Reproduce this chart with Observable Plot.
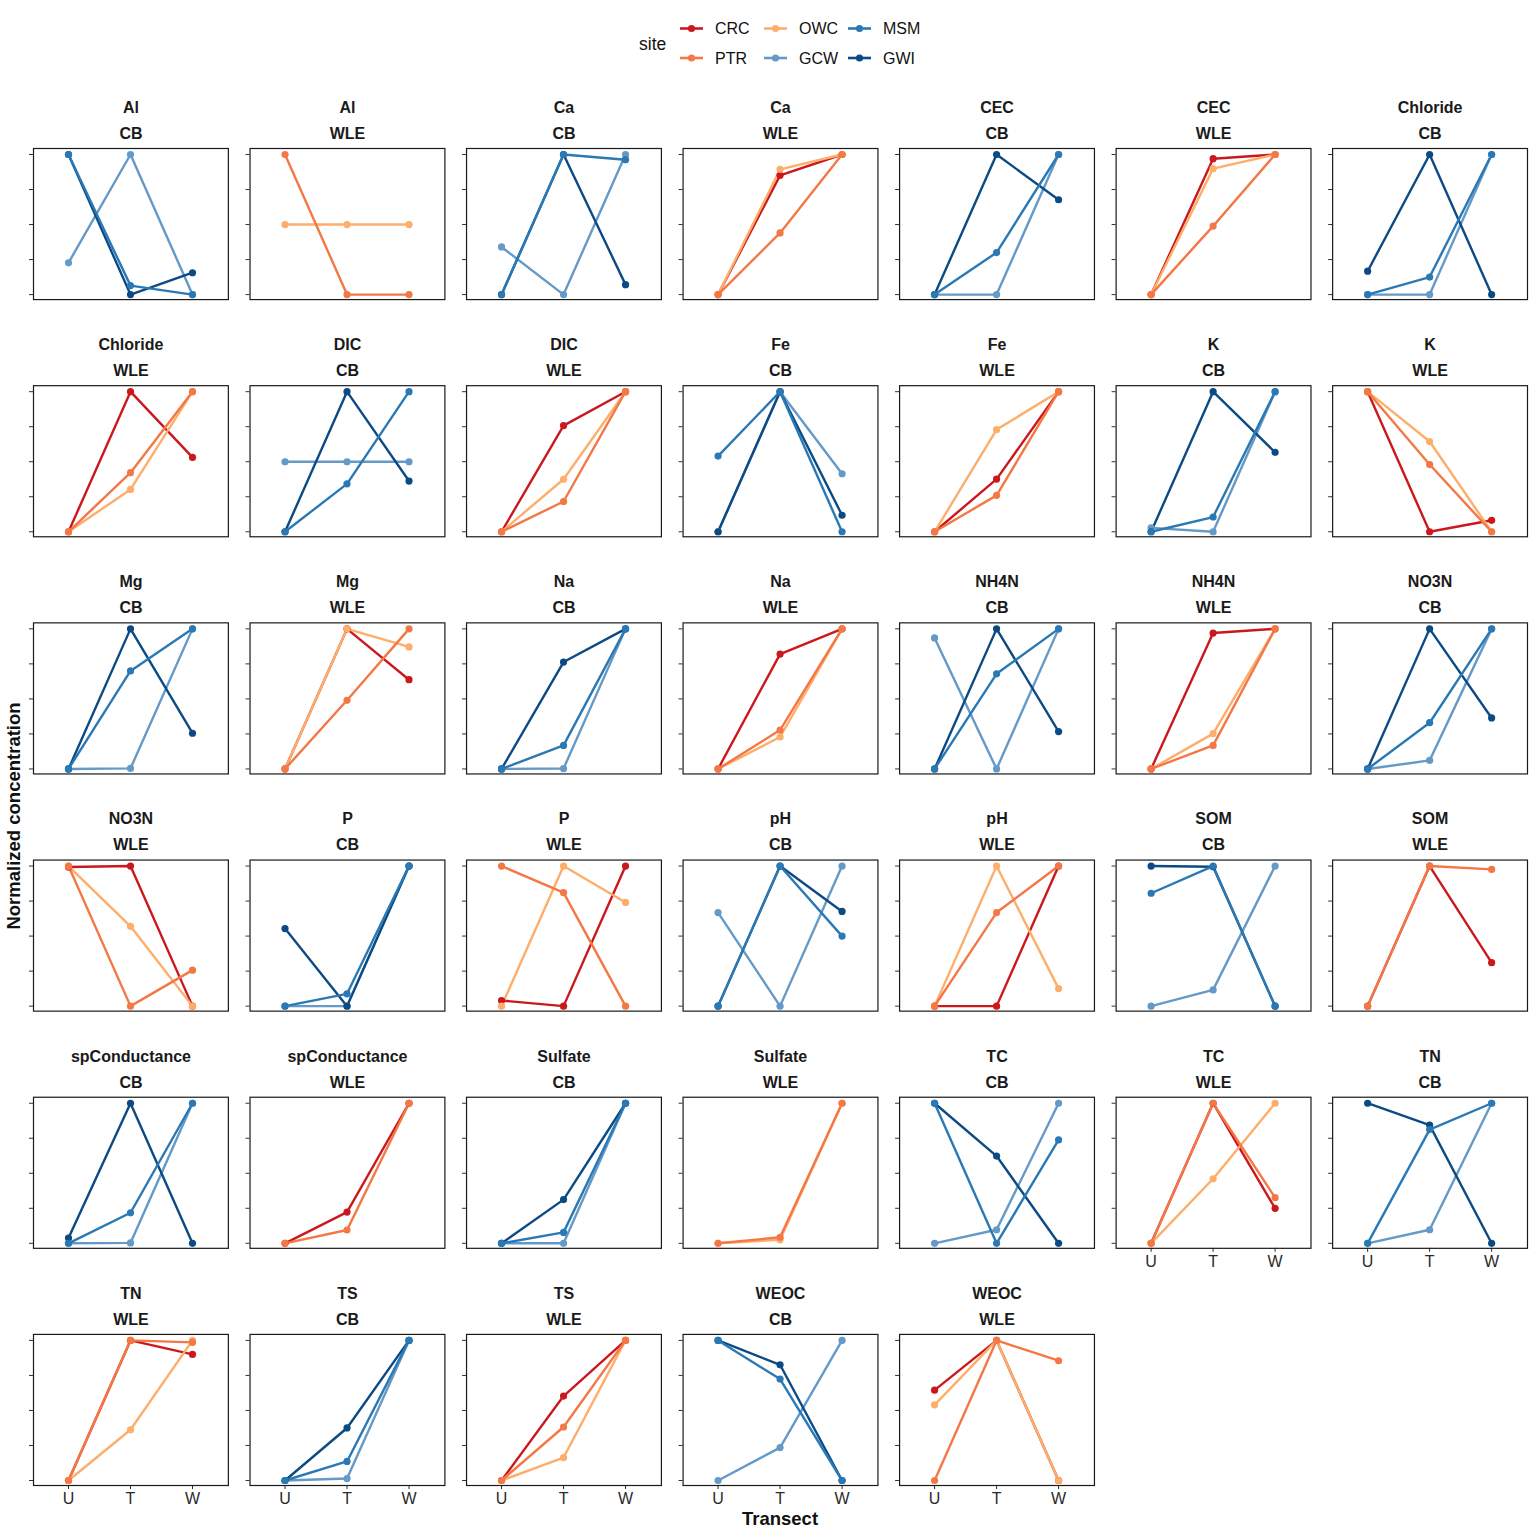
<!DOCTYPE html>
<html><head><meta charset="utf-8">
<script src="https://cdn.jsdelivr.net/npm/d3@7"></script>
<script src="https://cdn.jsdelivr.net/npm/@observablehq/plot@0.6"></script>
<style>
body{margin:0;background:#fff;font-family:"Liberation Sans",Arial,sans-serif;}
#wrap{position:relative;width:1536px;height:1536px;overflow:hidden;}
#legend{position:absolute;left:0;top:0;}
#chart{position:absolute;left:0;top:85px;}
.ytitle{position:absolute;left:14px;top:816px;transform:translate(-50%,-50%) rotate(-90deg);font-weight:bold;font-size:18.5px;white-space:nowrap;color:#111;}
.xtitle{position:absolute;left:780px;top:1519px;transform:translate(-50%,-50%);font-weight:bold;font-size:18.5px;white-space:nowrap;color:#111;}
</style></head>
<body>
<div id="wrap">
  <div id="legend"></div>
  <div id="chart"></div>
  <div class="ytitle">Normalized concentration</div>
  <div class="xtitle">Transect</div>
</div>
<script>
const transects = ["U", "T", "W"];
const sites = ["CRC", "PTR", "OWC", "GCW", "MSM", "GWI"];
const siteColors = ["#cb181d", "#f47846", "#fdae6b", "#6499c8", "#2a79b4", "#0c4a84"];
const variables = ["Al","Ca","CEC","Chloride","DIC","Fe","K","Mg","Na","NH4N","NO3N","P","pH","SOM","spConductance","Sulfate","TC","TN","TS","WEOC"];
const regions = ["CB", "WLE"];

// normalized values per panel, per site: [U, T, W]
const Al_CB = {GCW: [0.227, 1, 0], GWI: [1, 0, 0.156], MSM: [1, 0.064, 0]};
const Al_WLE = {OWC: [0.5, 0.5, 0.5], PTR: [1, 0, 0]};
const Ca_CB = {GCW: [0.34, 0, 1], GWI: [0, 1, 0.071], MSM: [0, 1, 0.963]};
const Ca_WLE = {CRC: [0, 0.851, 1], OWC: [0, 0.894, 1], PTR: [0, 0.44, 1]};
const CEC_CB = {GCW: [0, 0, 1], GWI: [0, 1, 0.677], MSM: [0, 0.3, 1]};
const CEC_WLE = {CRC: [0, 0.97, 1], OWC: [0, 0.899, 1], PTR: [0, 0.489, 1]};
const Chloride_CB = {GCW: [0, 0, 1], GWI: [0.167, 1, 0], MSM: [0, 0.125, 1]};
const Chloride_WLE = {CRC: [0, 1, 0.531], OWC: [0, 0.302, 1], PTR: [0, 0.422, 1]};
const DIC_CB = {GCW: [0.5, 0.5, 0.5], GWI: [0, 1, 0.362], MSM: [0, 0.342, 1]};
const DIC_WLE = {CRC: [0, 0.758, 1], OWC: [0, 0.375, 1], PTR: [0, 0.216, 1]};
const Fe_CB = {GCW: [0, 1, 0.414], GWI: [0, 1, 0.118], MSM: [0.54, 1, 0]};
const Fe_WLE = {CRC: [0, 0.376, 1], OWC: [0, 0.729, 1], PTR: [0, 0.26, 1]};
const K_CB = {GCW: [0.028, 0, 1], GWI: [0, 1, 0.567], MSM: [0, 0.105, 1]};
const K_WLE = {CRC: [1, 0, 0.082], OWC: [1, 0.644, 0], PTR: [1, 0.48, 0]};
const Mg_CB = {GCW: [0, 0.004, 1], GWI: [0, 1, 0.255], MSM: [0, 0.7, 1]};
const Mg_WLE = {CRC: [0, 1, 0.637], OWC: [0, 1, 0.871], PTR: [0, 0.49, 1]};
const Na_CB = {GCW: [0, 0.003, 1], GWI: [0, 0.763, 1], MSM: [0, 0.168, 1]};
const Na_WLE = {CRC: [0, 0.82, 1], OWC: [0, 0.228, 1], PTR: [0, 0.278, 1]};
const NH4N_CB = {GCW: [0.935, 0, 1], GWI: [0, 1, 0.267], MSM: [0, 0.679, 1]};
const NH4N_WLE = {CRC: [0, 0.97, 1], OWC: [0, 0.252, 1], PTR: [0, 0.168, 1]};
const NO3N_CB = {GCW: [0, 0.061, 1], GWI: [0, 1, 0.364], MSM: [0, 0.33, 1]};
const NO3N_WLE = {CRC: [0.993, 1, 0], OWC: [1, 0.57, 0], PTR: [1, 0, 0.257]};
const P_CB = {GCW: [0, 0, 1], GWI: [0.554, 0, 1], MSM: [0, 0.088, 1]};
const P_WLE = {CRC: [0.04, 0, 1], OWC: [0, 1, 0.74], PTR: [1, 0.81, 0]};
const pH_CB = {GCW: [0.668, 0, 1], GWI: [0, 1, 0.676], MSM: [0, 1, 0.5]};
const pH_WLE = {CRC: [0, 0, 1], OWC: [0, 1, 0.125], PTR: [0, 0.668, 1]};
const SOM_CB = {GCW: [0, 0.116, 1], GWI: [1, 0.995, 0], MSM: [0.806, 1, 0]};
const SOM_WLE = {CRC: [0, 1, 0.31], PTR: [0, 1, 0.976]};
const spConductance_CB = {GCW: [0, 0.003, 1], GWI: [0.038, 1, 0], MSM: [0, 0.218, 1]};
const spConductance_WLE = {CRC: [0, 0.223, 1], PTR: [0, 0.095, 1]};
const Sulfate_CB = {GCW: [0, 0, 1], GWI: [0, 0.312, 1], MSM: [0, 0.078, 1]};
const Sulfate_WLE = {OWC: [0, 0.025, 1], PTR: [0, 0.043, 1]};
const TC_CB = {GCW: [0, 0.097, 1], GWI: [1, 0.623, 0], MSM: [1, 0, 0.738]};
const TC_WLE = {CRC: [0, 1, 0.25], OWC: [0, 0.461, 1], PTR: [0, 1, 0.326]};
const TN_CB = {GCW: [0, 0.097, 1], GWI: [1, 0.844, 0], MSM: [0, 0.812, 1]};
const TN_WLE = {CRC: [0, 1, 0.9], OWC: [0, 0.362, 1], PTR: [0, 1, 0.986]};
const TS_CB = {GCW: [0, 0.014, 1], GWI: [0, 0.375, 1], MSM: [0, 0.136, 1]};
const TS_WLE = {CRC: [0, 0.603, 1], OWC: [0, 0.164, 1], PTR: [0, 0.382, 1]};
const WEOC_CB = {GCW: [0, 0.235, 1], GWI: [1, 0.826, 0], MSM: [1, 0.724, 0]};
const WEOC_WLE = {CRC: [0.645, 1, 0], OWC: [0.54, 1, 0], PTR: [0, 1, 0.855]};

const panelValues = [Al_CB, Al_WLE, Ca_CB, Ca_WLE, CEC_CB, CEC_WLE, Chloride_CB, Chloride_WLE,
  DIC_CB, DIC_WLE, Fe_CB, Fe_WLE, K_CB, K_WLE, Mg_CB, Mg_WLE, Na_CB, Na_WLE, NH4N_CB, NH4N_WLE,
  NO3N_CB, NO3N_WLE, P_CB, P_WLE, pH_CB, pH_WLE, SOM_CB, SOM_WLE, spConductance_CB, spConductance_WLE,
  Sulfate_CB, Sulfate_WLE, TC_CB, TC_WLE, TN_CB, TN_WLE, TS_CB, TS_WLE, WEOC_CB, WEOC_WLE];

const NCOL = 7;
const panels = [];
variables.forEach(v => regions.forEach(r => {
  const i = panels.length;
  panels.push({variable: v, region: r, col: i % NCOL, row: Math.floor(i / NCOL), values: panelValues[i]});
}));

const rows = [];
for (const p of panels) {
  for (const s of Object.keys(p.values)) {
    p.values[s].forEach((val, j) => rows.push({site: s, transect: transects[j], value: val, col: p.col, row: p.row}));
  }
}
// draw order: alphabetical by site (as in the original)
rows.sort((a, b) => d3.ascending(a.site, b.site));

const font = "'Liberation Sans', Arial, sans-serif";

const chart = Plot.plot({
  width: 1536,
  height: 1451,
  marginTop: 63,
  marginBottom: 51,
  marginLeft: 33,
  marginRight: 9,
  style: {fontFamily: font, background: "white", overflow: "visible"},
  fx: {domain: d3.range(7), paddingInner: 0.1, paddingOuter: 0, round: false, axis: null, label: null},
  fy: {domain: d3.range(6), paddingInner: 0.363, paddingOuter: 0, round: false, axis: null, label: null},
  x: {type: "point", domain: transects, padding: 0.56, label: null},
  y: {domain: [0, 1], insetTop: 6, insetBottom: 5, label: null},
  color: {domain: sites, range: siteColors},
  marks: [
    Plot.axisY({ticks: [0, 0.25, 0.5, 0.75, 1], tickSize: 4, tickFormat: () => "", facetAnchor: null, stroke: "#333", label: null}),
    Plot.axisX({tickSize: 4, tickPadding: 3, fontSize: 16, facetAnchor: "bottom-empty", color: "#2a2a2a", label: null}),
    Plot.line(rows, {x: "transect", y: "value", z: "site", stroke: "site", fx: "col", fy: "row", strokeWidth: 2.4}),
    Plot.dot(rows, {x: "transect", y: "value", fill: "site", fx: "col", fy: "row", r: 3.6}),
    Plot.frame({stroke: "#1a1a1a", strokeWidth: 1.2}),
    Plot.text(panels, {fx: "col", fy: "row", text: "variable", frameAnchor: "top", dy: -47, fontWeight: "bold", fontSize: 16, fill: "#1a1a1a"}),
    Plot.text(panels, {fx: "col", fy: "row", text: "region", frameAnchor: "top", dy: -21, fontWeight: "bold", fontSize: 16, fill: "#1a1a1a"})
  ]
});
document.getElementById("chart").appendChild(chart);

// legend
const lg = d3.select("#legend").append("svg").attr("width", 1536).attr("height", 85)
  .style("font-family", font);
lg.append("text").attr("x", 639).attr("y", 44).attr("dy", "0.35em").attr("font-size", 17.5).attr("fill", "#111").text("site");
sites.forEach((s, i) => {
  const col = Math.floor(i / 2), r = i % 2;
  const x0 = 680 + col * 84, y0 = 28.5 + r * 29.5;
  const g = lg.append("g");
  g.append("line").attr("x1", x0).attr("x2", x0 + 23).attr("y1", y0).attr("y2", y0)
    .attr("stroke", siteColors[i]).attr("stroke-width", 2.6);
  g.append("circle").attr("cx", x0 + 11.5).attr("cy", y0).attr("r", 3.6).attr("fill", siteColors[i]);
  g.append("text").attr("x", x0 + 35).attr("y", y0).attr("dy", "0.35em").attr("font-size", 16).attr("fill", "#111").text(s);
});
</script>
</body></html>
